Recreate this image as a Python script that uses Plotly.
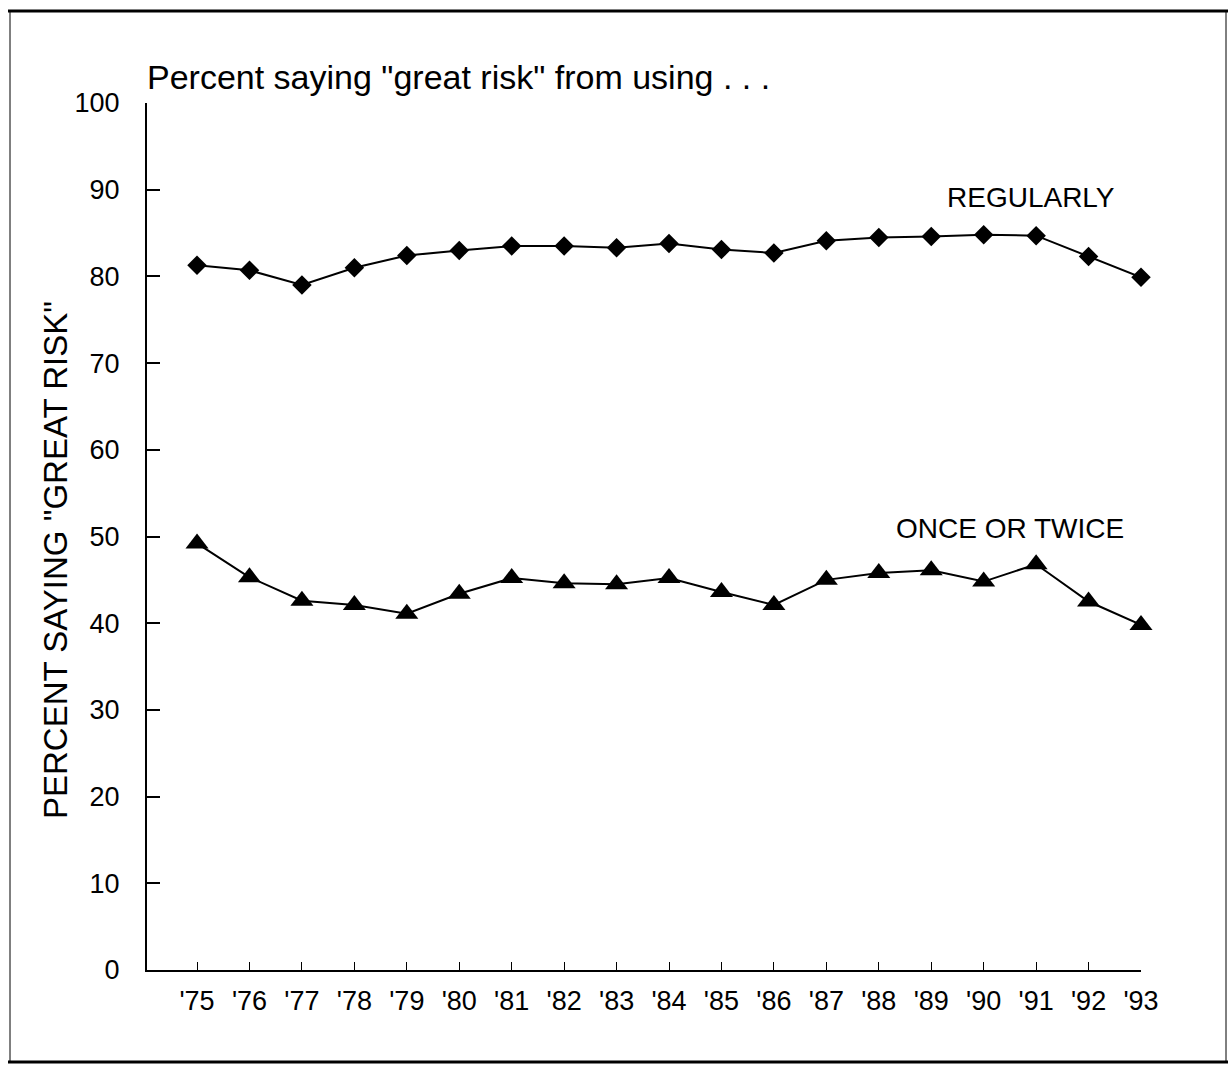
import plotly.graph_objects as go

years = ["'75", "'76", "'77", "'78", "'79", "'80", "'81", "'82", "'83", "'84",
         "'85", "'86", "'87", "'88", "'89", "'90", "'91", "'92", "'93"]
regularly = [81.3, 80.7, 79.0, 81.0, 82.4, 83.0, 83.5, 83.5, 83.3, 83.8,
             83.1, 82.7, 84.1, 84.5, 84.6, 84.8, 84.7, 82.3, 79.9]
once_twice = [49.2, 45.3, 42.6, 42.1, 41.1, 43.4, 45.2, 44.6, 44.5, 45.2,
              43.6, 42.1, 45.0, 45.8, 46.1, 44.8, 46.8, 42.5, 39.8]
y_ticks = [0, 10, 20, 30, 40, 50, 60, 70, 80, 90, 100]

x = list(range(len(years)))
FONT = "Liberation Sans, Arial, sans-serif"

fig = go.Figure()
fig.add_trace(go.Scatter(
    x=x, y=regularly, mode="lines+markers", cliponaxis=False,
    line=dict(color="black", width=2),
    marker=dict(symbol="diamond", size=15, color="black"),
    showlegend=False))
fig.add_trace(go.Scatter(
    x=x, y=once_twice, mode="lines+markers", cliponaxis=False,
    line=dict(color="black", width=2),
    marker=dict(symbol="triangle-up", size=20, color="black"),
    showlegend=False))

fig.update_xaxes(
    range=[-0.954, 18], tickmode="array", tickvals=x, ticktext=years,
    showgrid=False, zeroline=False, showline=True, linecolor="black", linewidth=2,
    ticks="inside", ticklen=8, tickcolor="black", tickwidth=1,
    tickfont=dict(family=FONT, size=27, color="black"), ticklabelstandoff=6)
fig.update_yaxes(
    range=[0, 100], tickmode="array", tickvals=y_ticks,
    showgrid=False, zeroline=False, showline=True, linecolor="black", linewidth=2,
    ticks="inside", ticklen=13, tickcolor="black", tickwidth=2,
    tickfont=dict(family=FONT, size=27, color="black"), ticklabelstandoff=20)

W, H = 1229, 1067
L, R, T, B = 147, 88, 103, 97
pw, ph = W - L - R, H - T - B

def px(xp):
    return (xp - L) / pw

def py(yp):
    return (H - B - yp) / ph

shapes = [
    dict(type="line", xref="paper", yref="paper", x0=px(8), x1=px(1228), y0=py(11), y1=py(11),
         line=dict(color="black", width=3)),
    dict(type="line", xref="paper", yref="paper", x0=px(8), x1=px(1228), y0=py(1062), y1=py(1062),
         line=dict(color="black", width=3)),
    dict(type="line", xref="paper", yref="paper", x0=px(10), x1=px(10), y0=py(11), y1=py(1062),
         line=dict(color="black", width=1)),
    dict(type="line", xref="paper", yref="paper", x0=px(1226), x1=px(1226), y0=py(11), y1=py(1062),
         line=dict(color="black", width=1)),
]

annotations = [
    dict(text='Percent saying "great risk" from using . . .', xref="paper", yref="paper",
         x=px(145), y=py(77), xanchor="left", yanchor="middle", showarrow=False,
         font=dict(family=FONT, size=34, color="black")),
    dict(text='PERCENT SAYING "GREAT RISK"', xref="paper", yref="paper", textangle=-90,
         x=px(55), y=py(560), xanchor="center", yanchor="middle", showarrow=False,
         font=dict(family=FONT, size=33, color="black")),
    dict(text="REGULARLY", xref="paper", yref="paper",
         x=px(1031), y=py(197), xanchor="center", yanchor="middle", showarrow=False,
         font=dict(family=FONT, size=28, color="black")),
    dict(text="ONCE OR TWICE", xref="paper", yref="paper",
         x=px(1010), y=py(528), xanchor="center", yanchor="middle", showarrow=False,
         font=dict(family=FONT, size=28, color="black")),
]

fig.update_layout(
    width=W, height=H, margin=dict(l=L, r=R, t=T, b=B, autoexpand=False),
    paper_bgcolor="white", plot_bgcolor="white",
    shapes=shapes, annotations=annotations, showlegend=False)

fig.write_html("out.html", config={"displayModeBar": False},
               post_script="document.body.style.margin='0';")
